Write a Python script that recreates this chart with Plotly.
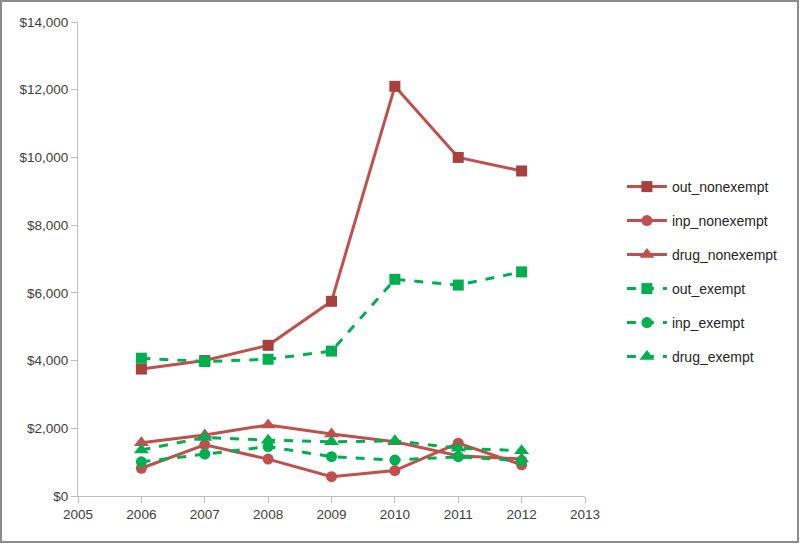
import plotly.graph_objects as go

years = [2006, 2007, 2008, 2009, 2010, 2011, 2012]
out_nonexempt = [3750, 4000, 4450, 5750, 12100, 10000, 9600]
inp_nonexempt = [820, 1510, 1090, 570, 750, 1560, 920]
drug_nonexempt = [1570, 1800, 2100, 1830, 1600, 1190, 1090]
out_exempt = [4070, 3970, 4040, 4280, 6400, 6230, 6620]
inp_exempt = [1010, 1240, 1460, 1160, 1060, 1160, 1040]
drug_exempt = [1360, 1730, 1650, 1600, 1630, 1410, 1340]

y_ticks = [0, 2000, 4000, 6000, 8000, 10000, 12000, 14000]
y_tick_labels = ["$0", "$2,000", "$4,000", "$6,000", "$8,000", "$10,000", "$12,000", "$14,000"]

RED = "#C0504D"
DARKRED = "#A8403D"
GREEN = "#00B050"
FONT = "Liberation Sans Narrow, Arial Narrow, Liberation Sans, sans-serif"

series = [
    ("out_nonexempt", out_nonexempt, RED, DARKRED, "square", "solid", 11),
    ("inp_nonexempt", inp_nonexempt, RED, RED, "circle", "solid", 11),
    ("drug_nonexempt", drug_nonexempt, RED, RED, "triangle-up", "solid", 13),
    ("out_exempt", out_exempt, GREEN, GREEN, "square", "dash", 11),
    ("inp_exempt", inp_exempt, GREEN, GREEN, "circle", "dash", 11),
    ("drug_exempt", drug_exempt, GREEN, GREEN, "triangle-up", "dash", 13),
]

L, R, T, B = 78, 215, 22, 48
W, H = 800, 544
pw, ph = W - L - R, H - T - B

fig = go.Figure()
legend_py = [187, 221, 255, 289, 323, 357]
layout_legends = {"legend": dict(visible=False)}
for i, (name, vals, lc, mc, sym, dash, msize) in enumerate(series):
    lname = f"legend{i+2}"
    fig.add_trace(go.Scatter(
        x=years, y=vals, name=name, mode="lines+markers",
        line=dict(color=lc, width=3, dash=dash),
        marker=dict(color=mc, symbol=sym, size=msize),
        legend=lname,
    ))
    layout_legends[lname] = dict(
        x=(628 - L) / pw - 0.012, xanchor="left",
        y=(H - B - legend_py[i]) / ph, yanchor="middle",
        font=dict(family=FONT, size=14, color="#262626"),
        bgcolor="rgba(0,0,0,0)", itemwidth=40,
    )

fig.update_layout(
    width=W, height=H,
    margin=dict(l=L, r=R, t=T, b=B, autoexpand=False),
    paper_bgcolor="white", plot_bgcolor="white",
    font=dict(family=FONT, size=13.5, color="#404040"),
    **layout_legends,
)
fig.update_xaxes(
    range=[2005, 2013], tickmode="linear", tick0=2005, dtick=1,
    showgrid=False, showline=True, linecolor="#BFBFBF", linewidth=1,
    ticks="outside", ticklen=6, tickcolor="#BFBFBF", zeroline=False,
)
fig.update_yaxes(
    range=[0, 14000], tickvals=y_ticks, ticktext=y_tick_labels,
    showgrid=False, showline=True, linecolor="#BFBFBF", linewidth=1,
    ticks="outside", ticklen=6, tickcolor="#BFBFBF", zeroline=False,
)
# outer chart border
fig.add_shape(
    type="rect", xref="paper", yref="paper",
    x0=(1 - L) / pw, x1=(W - 2 - L) / pw,
    y0=(H - B - (H - 2)) / ph, y1=(H - B - 1) / ph,
    line=dict(color="#8C8C8C", width=2), fillcolor="rgba(0,0,0,0)", layer="below",
)
fig.write_html("out.html", config={"displayModeBar": False},
               post_script="document.body.style.margin='0';")
